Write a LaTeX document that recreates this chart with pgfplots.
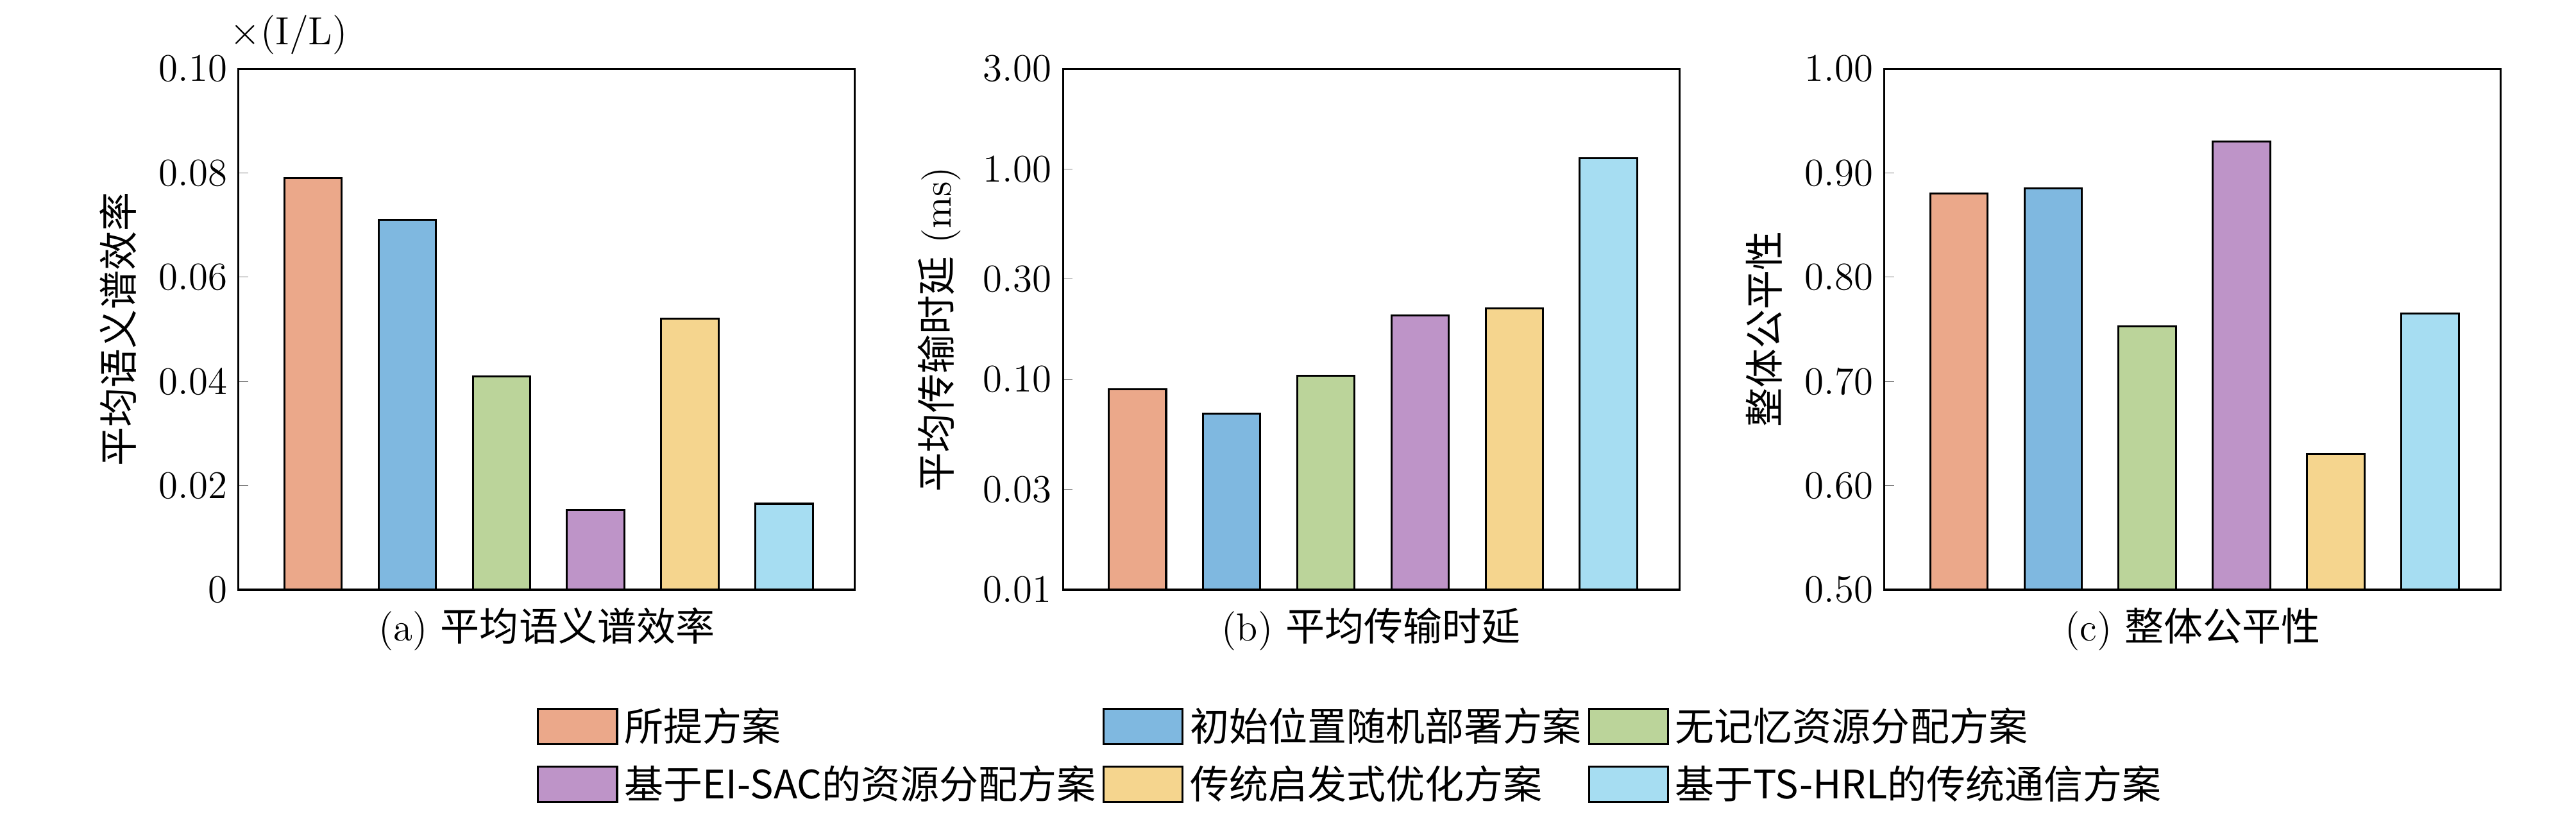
\documentclass[border=0pt]{standalone}
\usepackage{pgfplots}
\pgfplotsset{compat=1.18}
\usepackage{fontspec}
\newfontfamily\cjk{Noto Sans CJK SC}
\definecolor{c1}{HTML}{EBA88A}
\definecolor{c2}{HTML}{7FB8E0}
\definecolor{c3}{HTML}{BBD49A}
\definecolor{c4}{HTML}{BE94C8}
\definecolor{c5}{HTML}{F5D58E}
\definecolor{c6}{HTML}{A6DDF2}
\pgfplotsset{
  mybar/.style={ybar, bar width=0.62cm, draw=black, line width=0.6pt, bar shift=0pt},
  base/.style={width=6.64cm, height=5.61cm, scale only axis, xmin=-0.79, xmax=5.75,
    xtick=\empty, ytick pos=left, tick align=inside, major tick length=3pt,
    tick label style={font=\large}, label style={font=\large},
    xlabel style={yshift=-2pt},
    axis line style={line width=0.6pt}, clip=false,
    legend image code/.code={\draw[#1,draw=black] (0cm,-0.19cm) rectangle (0.85cm,0.19cm);}},
}
\begin{document}
\begin{tikzpicture}
\path (0,6.35) (27.75,6.35);
\begin{axis}[base, at={(2.57cm,0cm)}, ymin=0, ymax=0.1,
  ytick={0,0.02,0.04,0.06,0.08,0.1}, yticklabels={0,0.02,0.04,0.06,0.08,0.10},
  ylabel={\cjk 平均语义谱效率}, xlabel={(a) {\cjk 平均语义谱效率}}]
\addplot[mybar, fill=c1] coordinates {(0,0.079)};
\addplot[mybar, fill=c2] coordinates {(1,0.071)};
\addplot[mybar, fill=c3] coordinates {(2,0.041)};
\addplot[mybar, fill=c4] coordinates {(3,0.0153)};
\addplot[mybar, fill=c5] coordinates {(4,0.052)};
\addplot[mybar, fill=c6] coordinates {(5,0.0165)};
\node[anchor=south west, font=\large, inner sep=1pt] at (rel axis cs:-0.02,1.02) {$\times$(I/L)};
\end{axis}
\begin{axis}[base, at={(11.45cm,0cm)}, ymode=log, ymin=0.01, ymax=3,
  ytick={0.01,0.03,0.1,0.3,1,3}, yticklabels={0.01,0.03,0.10,0.30,1.00,3.00},
  ylabel={{\cjk 平均传输时延} (ms)}, xlabel={(b) {\cjk 平均传输时延}}, log origin=infty,
  legend columns=3, legend cell align=left,
  legend style={at={(rel axis cs:0.47,-0.2)}, anchor=north, draw=none, font=\large,
    column 2/.style={text width=6.0cm},
    column 4/.style={text width=5.2cm},
    column 6/.style={text width=5.2cm},
    row sep=2pt}]
\addplot[mybar, fill=c1] coordinates {(0,0.0897)};
\addplot[mybar, fill=c2] coordinates {(1,0.0686)};
\addplot[mybar, fill=c3] coordinates {(2,0.104)};
\addplot[mybar, fill=c4] coordinates {(3,0.202)};
\addplot[mybar, fill=c5] coordinates {(4,0.217)};
\addplot[mybar, fill=c6] coordinates {(5,1.13)};
\legend{{\cjk 所提方案},{\cjk 初始位置随机部署方案},{\cjk 无记忆资源分配方案},{\cjk 基于EI-SAC的资源分配方案},{\cjk 传统启发式优化方案},{\cjk 基于TS-HRL的传统通信方案}}
\end{axis}
\begin{axis}[base, at={(20.3cm,0cm)}, ymin=0.5, ymax=1,
  ytick={0.5,0.6,0.7,0.8,0.9,1}, yticklabels={0.50,0.60,0.70,0.80,0.90,1.00},
  ylabel={\cjk 整体公平性}, xlabel={(c) {\cjk 整体公平性}}]
\addplot[mybar, fill=c1] coordinates {(0,0.88)};
\addplot[mybar, fill=c2] coordinates {(1,0.885)};
\addplot[mybar, fill=c3] coordinates {(2,0.753)};
\addplot[mybar, fill=c4] coordinates {(3,0.93)};
\addplot[mybar, fill=c5] coordinates {(4,0.63)};
\addplot[mybar, fill=c6] coordinates {(5,0.765)};
\end{axis}
\end{tikzpicture}
\end{document}
